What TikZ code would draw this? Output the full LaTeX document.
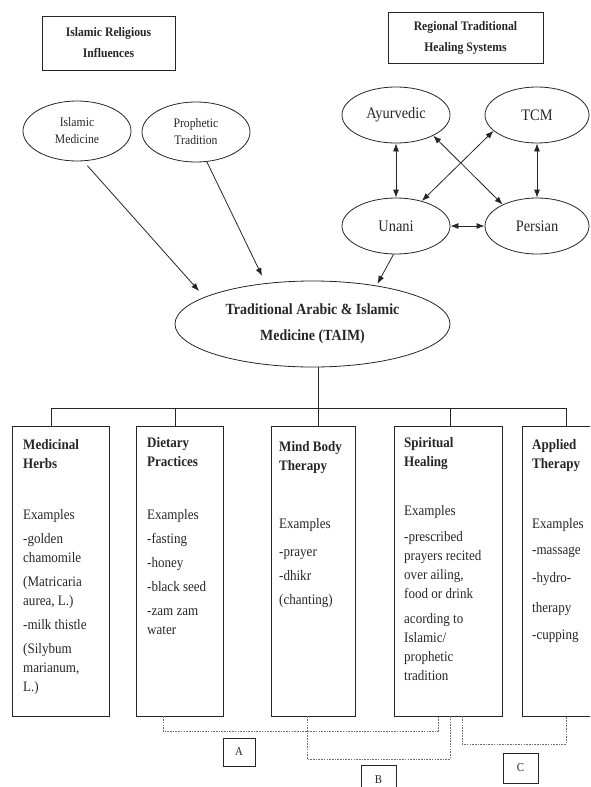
\documentclass[tikz,border=0pt]{standalone}
\usepackage{fontspec}
\setmainfont{Liberation Serif}[FakeStretch=0.9]
\usetikzlibrary{shapes.geometric,arrows.meta,calc}
\definecolor{ink}{RGB}{38,38,38}
\definecolor{dashink}{RGB}{110,110,110}
\begin{document}
\begin{tikzpicture}[x=1pt,y=-1pt,
  every node/.style={text=ink},
  hdrbox/.style={draw=ink, line width=0.9pt, rectangle, inner sep=0pt, align=center,
    font=\fontsize{13}{21}\selectfont\bfseries},
  smallell/.style={ellipse, draw=ink, line width=0.8pt, inner sep=0pt,
    minimum width=108pt, minimum height=60pt, align=center,
    font=\fontsize{13}{17}\selectfont},
  regell/.style={ellipse, draw=ink, line width=0.8pt, inner sep=0pt,
    minimum width=108pt, minimum height=56pt, font=\fontsize{16}{19}\selectfont},
  taimell/.style={ellipse, draw=ink, line width=0.8pt, inner sep=0pt,
    minimum width=275pt, minimum height=86pt, align=center,
    font=\fontsize{15.5}{26}\selectfont\bfseries},
  catbox/.style={draw=ink, line width=0.9pt, rectangle, inner sep=0pt, minimum height=290pt},
  ttl/.style={anchor=north west, inner sep=0pt, align=left,
    font=\fontsize{14.5}{19.5}\selectfont\bfseries},
  body/.style={anchor=north west, inner sep=0pt, align=left,
    font=\fontsize{14.5}{19}\selectfont},
  lbl/.style={draw=ink, line width=0.8pt, rectangle, inner sep=0pt,
    minimum width=33pt, minimum height=29pt, font=\fontsize{12}{14}\selectfont},
  conn/.style={draw=ink, line width=0.8pt},
  sgl/.style={conn, -{Latex[length=8pt,width=6pt]}},
  dbl/.style={conn, {Latex[length=8pt,width=6pt]}-{Latex[length=8pt,width=6pt]}},
  dsh/.style={draw=dashink, line width=0.8pt, dash pattern=on 1.6pt off 1.1pt}
]
\useasboundingbox (0,0) rectangle (590,787);
\clip (0,0) rectangle (590,787);

% header boxes
\node[hdrbox, minimum width=133pt, minimum height=54pt] (iri) at (108.5,43) {Islamic Religious\\Influences};
\node[hdrbox, minimum width=155pt, minimum height=51pt] (rths) at (465.5,37.5) {Regional Traditional\\Healing Systems};

% influence ellipses
\node[smallell] (im) at (77,131) {Islamic\\Medicine};
\node[smallell] (pt) at (196,132) {Prophetic\\Tradition};

% regional ellipses
\node[regell] (ayu) at (396,115) {Ayurvedic};
\node[regell, minimum width=104pt] (tcm) at (537,115) {TCM};
\node[regell] (una) at (396,226) {Unani};
\node[regell, minimum width=104pt] (per) at (537,226) {Persian};

% central ellipse
\node[taimell] (taim) at (312.5,324) {Traditional Arabic \& Islamic\\Medicine (TAIM)};

% arrows
\draw[dbl] (ayu) -- (una);
\draw[dbl] (tcm) -- (per);
\draw[dbl] (ayu.-29) -- (per.148);
\draw[dbl] (tcm.-160) -- (una.44);
\draw[dbl] (una) -- (per);
\draw[sgl, shorten >=2pt] (una.-95) -- (taim.31);
\draw[sgl, shorten <=6pt, shorten >=8pt] (im.-78) -- (taim.166);
\draw[sgl, shorten >=8pt] (pt.-70) -- (taim.139);

% category boxes
\node[catbox, minimum width=97pt] (b1) at (60.5,571) {};
\node[catbox, minimum width=87pt] (b2) at (179.5,571) {};
\node[catbox, minimum width=84pt] (b3) at (313,571) {};
\node[catbox, minimum width=108pt] (b4) at (448,571) {};
\node[catbox, minimum width=90pt] (b5) at (567,571) {};

% tree
\coordinate (top) at (318,408);
\coordinate (d1) at (51,408);
\coordinate (d2) at (175,408);
\coordinate (d4) at (450,408);
\coordinate (d5) at (566,408);
\draw[conn] (taim.south -| top) -- (top);
\draw[conn] (d1) -- (d5);
\draw[conn] (d1) -- (b1.north -| d1);
\draw[conn] (d2) -- (b2.north -| d2);
\draw[conn] (top) -- (b3.north -| top);
\draw[conn] (d4) -- (b4.north -| d4);
\draw[conn] (d5) -- (b5.north -| d5);

% titles
\node[ttl] (t1) at (23,439) {Medicinal\\Herbs};
\node[ttl] (t2) at (147,437) {Dietary\\Practices};
\node[ttl] (t3) at (279,441) {Mind Body\\Therapy};
\node[ttl] (t4) at (404,437) {Spiritual\\Healing};
\node[ttl] (t5) at (532,439) {Applied\\Therapy};

% bodies
\node[body] (x1) at (23,509) {Examples\\[5pt]-golden\\chamomile\\[5pt](Matricaria\\aurea, L.)\\[5pt]-milk thistle\\[5pt](Silybum\\marianum,\\L.)};
\node[body] (x2) at (147,509) {Examples\\[5pt]-fasting\\[5pt]-honey\\[5pt]-black seed\\[5pt]-zam zam\\water};
\node[body] (x3) at (279,518) {Examples\\[9pt]-prayer\\[5pt]-dhikr\\[5pt](chanting)};
\node[body] (x4) at (404,505) {Examples\\[7pt]-prescribed\\prayers recited\\over ailing,\\food or drink\\[6pt]acording to\\Islamic/\\prophetic\\tradition};
\node[body] (x5) at (532,518) {Examples\\[7pt]-massage\\[9pt]-hydro-\\[11pt]therapy\\[8pt]-cupping};

% dashed groupings
\coordinate (cA1) at (163,731); \coordinate (cA2) at (438,731);
\coordinate (cB1) at (307,759); \coordinate (cB2) at (450,759);
\coordinate (cC1) at (462,744); \coordinate (cC2) at (566,744);
\draw[dsh] (b2.south -| cA1) -- (cA1) -- (cA2) -- (b4.south -| cA2);
\draw[dsh] (b3.south -| cB1) -- (cB1) -- (cB2) -- (b4.south -| cB2);
\draw[dsh] (b4.south -| cC1) -- (cC1) -- (cC2) -- (b5.south -| cC2);

\node[lbl, minimum width=32pt, minimum height=28pt] (la) at (239,752) {A};
\node[lbl, minimum width=35pt, minimum height=30pt] (lb) at (378.5,780) {B};
\node[lbl, minimum width=35pt, minimum height=30pt] (lc) at (520.5,768) {C};
\end{tikzpicture}
\end{document}
